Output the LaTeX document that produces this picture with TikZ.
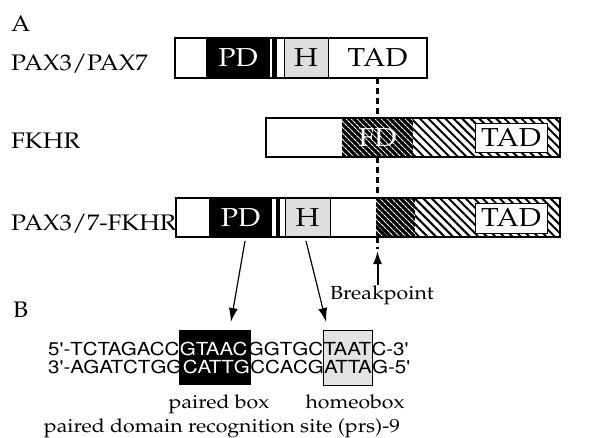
\documentclass[tikz,border=0pt]{standalone}
\usepackage[T1]{fontenc}
\renewcommand{\rmdefault}{ppl}
\renewcommand{\sfdefault}{phv}
\usetikzlibrary{fit,patterns.meta,arrows.meta}
\pgfdeclarelayer{bg}
\pgfsetlayers{bg,main}
\newcommand{\wideT}[1]{\scalebox{1.1}[1]{#1}}
\newcommand{\wideM}[1]{\scalebox{1.12}[1]{#1}}
\newcommand{\wideS}[1]{\scalebox{1.14}[1]{#1}}
\begin{document}
\begin{tikzpicture}[x=1pt,y=-1pt,
  seg/.style={inner sep=0pt, outer sep=0pt},
  outline/.style={seg, draw, line width=1.1pt},
  rowlab/.style={inner sep=0pt, anchor=base west, font=\fontsize{22.5}{24}\selectfont},
  boxlab/.style={inner sep=0pt, font=\fontsize{26}{28}\selectfont},
  smalllab/.style={inner sep=0pt, anchor=base, font=\fontsize{19}{21}\selectfont},
  dna/.style={inner sep=0pt, anchor=base west, font=\sffamily\fontsize{18}{20}\selectfont},
  dense/.style={seg, fill=black, postaction={pattern={Lines[angle=-45,distance=4pt,line width=1.1pt]}, pattern color=white}},
  sparse/.style={seg, pattern={Lines[angle=-45,distance=6pt,line width=2pt]}},
  hgray/.style={seg, fill=black!13, draw, line width=0.6pt},
  tadbox/.style={seg, fill=white, draw, line width=1pt},
  bpline/.style={line width=2.2pt, dash pattern=on 6pt off 4pt},
  bparr/.style={line width=2pt, -{Latex[length=13pt,width=9pt]}},
  arr/.style={line width=1.2pt, -{Latex[length=14pt,width=9pt]}}
]
\useasboundingbox (0,0) rectangle (605,437);

% labels
\node[rowlab] (A) at (11,31) {\wideT{A}};
\node[rowlab] (l1) at (11,70) {\wideT{PAX3/PAX7}};
\node[rowlab] (l2) at (11,148) {\wideT{FKHR}};
\node[rowlab] (l3) at (11,230) {\wideT{PAX3/7-FKHR}};

% row 1
\node[seg, fill=black, fit={(206,38)(270,78)}] (pd1) {};
\node[boxlab, text=white] (pd1t) at (pd1.center) {\wideT{PD}};
\fill (272,38) rectangle (277,78);
\node[hgray, fit={(284,38)(328,78)}] (h1) {};
\node[boxlab] (h1t) at (h1.center) {\wideT{H}};
\node[seg, fit={(328,38)(427,78)}] (tad1) {};
\node[boxlab] (tad1t) at (tad1.center) {\wideT{TAD}};
\node[outline, fit={(175,38)(427,78)}] (pax) {};

% row 2
\node[dense, fit={(342,118)(413,157)}] (fd2) {};
\node[boxlab, text=white] (fd2t) at (fd2.center) {\wideT{FD}};
\node[sparse, fit={(413,118)(560,157)}] (sp2) {};
\node[tadbox, fit={(475,123)(547,152)}] (tad2) {};
\node[boxlab] (tad2t) at (tad2.center) {\wideT{TAD}};
\node[outline, fit={(266,118)(560,157)}] (fkhr) {};

% row 3
\node[seg, fill=black, fit={(209,198)(272,237)}] (pd3) {};
\node[boxlab, text=white] (pd3t) at (pd3.center) {\wideT{PD}};
\fill (276,198) rectangle (280,237);
\node[hgray, fit={(285,198)(330,237)}] (h3) {};
\node[boxlab] (h3t) at (h3.center) {\wideT{H}};
\node[dense, fit={(376,198)(415,237)}] (fd3) {};
\node[sparse, fit={(415,198)(560,237)}] (sp3) {};
\node[tadbox, fit={(475,203)(547,233)}] (tad3) {};
\node[boxlab] (tad3t) at (tad3.center) {\wideT{TAD}};
\node[outline, fit={(176,198)(560,237)}] (fus) {};

% breakpoint
\draw[bpline] (tad1.south) -- (tad1.south |- fkhr.north);
\draw[bpline] (tad1.south |- fkhr.south) -- (tad1.south |- fus.north);
\coordinate (bpdash) at (377.5,249);
\coordinate (bptip) at (377.5,251);
\draw[bpline] (tad1.south |- fus.south) -- (bpdash);
\node[smalllab] (bpt) at (382,299) {\wideM{Breakpoint}};
\draw[bparr] (bpt.north -| bptip) -- (bptip);

% B
\node[rowlab] (B) at (13,317) {\wideT{B}};

\node[dna] (s1a) at (48,355) {\wideS{5\textquotesingle-TCTAGACC}};
\node[dna, text=white] (s1b) at (s1a.base east) {\wideS{GTAAC}};
\node[dna] (s1c) at (s1b.base east) {\wideS{GGTGC}};
\node[dna] (s1d) at (s1c.base east) {\wideS{TAAT}};
\node[dna] (s1e) at (s1d.base east) {\wideS{C-3\textquotesingle}};
\node[dna] (s2a) at (48,373) {\wideS{3\textquotesingle-AGATCTGG}};
\node[dna, text=white] (s2b) at (s2a.base east) {\wideS{CATTG}};
\node[dna] (s2c) at (s2b.base east) {\wideS{CCACG}};
\node[dna] (s2d) at (s2c.base east) {\wideS{ATTA}};
\node[dna] (s2e) at (s2d.base east) {\wideS{G-5\textquotesingle}};

\coordinate (ytop) at (0,330);
\coordinate (ybot) at (0,385);
\begin{pgfonlayer}{bg}
\node[seg, fill=black, fit={([xshift=-1pt]s1b.west |- ytop) ([xshift=1pt]s2b.east |- ybot)}] (pbox) {};
\node[seg, fill=black!11, draw, line width=0.6pt, fit={(s1d.west |- ytop) (s2d.east |- ybot)}] (hbox) {};
\end{pgfonlayer}

\node[smalllab] (pb) at (219,408) {\wideM{paired box}};
\node[smalllab] (hb) at (355,408) {\wideM{homeobox}};
\node[smalllab] (prs) at (222,432) {\wideM{paired domain recognition site (prs)-9}};

\draw[arr] ([shift={(4.5,4)}]pd3.south) -- ([shift={(16,-8)}]pbox.north);
\draw[arr] ([shift={(-1.5,4)}]h3.south) -- ([shift={(-21.5,-8)}]hbox.north);
\end{tikzpicture}
\end{document}
